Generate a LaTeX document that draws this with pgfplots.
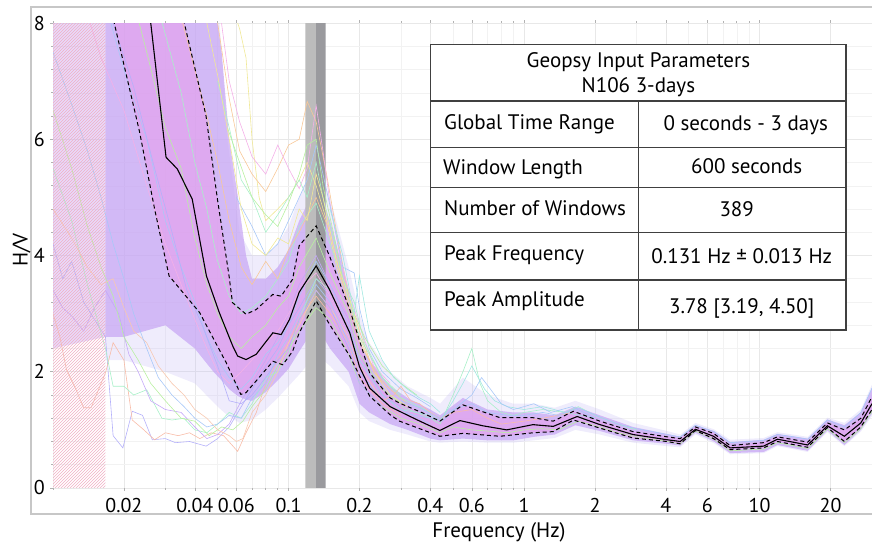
\documentclass[border=0pt]{standalone}
\usepackage{pgfplots}
\pgfplotsset{compat=1.18}
\usepackage{pgfplotstable}
\usepackage{fontspec}
\setmainfont{PT Sans}
\usetikzlibrary{patterns}
\usepgfplotslibrary{fillbetween}

\definecolor{bandlight}{RGB}{188,188,188}
\definecolor{banddark}{RGB}{154,154,158}
\definecolor{outerviolet}{RGB}{196,186,246}
\definecolor{coreviolet}{RGB}{200,166,244}
\definecolor{corepink}{RGB}{240,150,232}
\definecolor{lv1}{RGB}{180,176,250}
\definecolor{pe1}{RGB}{248,188,168}
\definecolor{mi1}{RGB}{168,240,200}
\definecolor{vi1}{RGB}{196,168,248}
\definecolor{gr1}{RGB}{184,240,160}
\definecolor{pe2}{RGB}{248,200,176}
\definecolor{lb1}{RGB}{168,200,248}
\definecolor{ye1}{RGB}{240,232,150}
\definecolor{or1}{RGB}{248,200,152}
\definecolor{pk1}{RGB}{244,176,232}
\definecolor{cy1}{RGB}{160,232,224}
\definecolor{hatchpink}{RGB}{240,176,196}

\pgfplotstableread{
f y
0.01 14
0.015 12
0.02 10
0.026 8.0
0.0302 5.69
0.0337 5.49
0.039 4.97
0.0448 3.65
0.0508 3.02
0.058 2.44
0.0608 2.27
0.066 2.21
0.0729 2.30
0.0858 2.67
0.0931 2.64
0.101 2.90
0.111 3.37
0.131 3.82
0.149 3.42
0.182 2.67
0.2 2.09
0.221 1.72
0.27 1.40
0.317 1.26
0.361 1.15
0.439 0.99
0.534 1.16
0.669 1.07
0.844 1.00
1.09 1.09
1.33 1.06
1.68 1.23
2.1 1.09
2.9 0.92
4.05 0.83
4.6 0.80
5.34 1.01
6.37 0.89
7.5 0.69
10.4 0.72
11.9 0.84
16 0.74
19.4 1.07
22.9 0.89
26.9 1.12
30 1.45
}\meantab

\pgfplotstableread{
f y
0.01 20
0.02 15
0.03 10
0.0361 8.0
0.0446 6.41
0.0499 4.97
0.0559 3.65
0.0578 3.19
0.066 2.99
0.0729 3.07
0.0857 3.33
0.093 3.30
0.104 3.59
0.111 4.17
0.131 4.51
0.149 4.00
0.182 3.07
0.221 1.98
0.27 1.55
0.296 1.46
0.372 1.29
0.439 1.15
0.55 1.43
0.79 1.21
1.09 1.21
1.33 1.15
1.62 1.32
2.1 1.15
2.9 0.97
4.05 0.88
4.6 0.85
5.34 1.05
6.37 0.94
7.5 0.73
10.4 0.78
11.9 0.88
16 0.79
19.4 1.12
22.9 1.00
26.9 1.20
30 1.57
}\uptab

\pgfplotstableread{
f y
0.01 13
0.015 10
0.0182 8.0
0.0233 6.13
0.027 4.8
0.0311 3.65
0.0419 3.02
0.0543 2.16
0.0627 1.61
0.066 1.64
0.0859 2.18
0.0945 2.12
0.104 2.35
0.111 2.67
0.131 3.22
0.149 2.82
0.182 2.27
0.221 1.58
0.27 1.26
0.296 1.15
0.372 1.00
0.439 0.89
0.55 0.94
0.79 0.89
1.09 0.95
1.33 0.97
1.62 1.17
2.1 1.03
2.9 0.86
4.05 0.80
4.6 0.76
5.34 0.99
6.37 0.85
7.5 0.66
10.4 0.69
11.9 0.80
16 0.70
19.4 1.04
22.9 0.80
26.9 1.05
30 1.35
}\lowtab

\pgfplotstableread{
f lo hi
0.0167 2.2 8.5
0.02 2.2 8.5
0.03 2.0 8.5
0.04 1.8 8.5
0.05 1.4 8.5
0.055 1.25 6.0
0.062 1.12 4.4
0.07 1.17 4.0
0.08 1.35 4.0
0.09 1.55 4.2
0.1 1.75 4.5
0.111 1.95 5.0
0.131 2.3 5.6
0.15 2.1 5.0
0.18 1.75 3.8
0.2 1.3 3.0
0.22 1.15 2.5
0.27 1.0 2.0
0.32 0.92 1.75
0.4 0.8 1.55
0.44 0.78 1.45
0.55 0.8 1.9
0.7 0.78 1.6
0.9 0.78 1.45
1.1 0.82 1.45
1.35 0.86 1.38
1.65 1.0 1.5
2.1 0.92 1.35
2.9 0.78 1.12
4.05 0.72 0.98
4.6 0.70 0.92
5.34 0.92 1.12
6.4 0.77 1.01
7.5 0.58 0.83
10.4 0.6 0.86
11.9 0.72 0.96
16 0.62 0.88
19.4 0.96 1.21
22.9 0.72 1.12
26.9 0.97 1.35
30 1.24 1.78
}\outertab

\pgfplotstableread{
f lo hi
0.0167 2.6 8.5
0.02 2.6 8.5
0.03 2.8 8.5
0.04 2.4 8.5
0.048 2.0 8.5
0.052 1.85 7.5
0.056 1.7 6.0
0.061 1.58 5.0
0.066 1.52 4.0
0.07 1.5 3.6
0.08 1.65 3.6
0.09 1.85 3.8
0.1 2.05 4.1
0.111 2.35 4.6
0.131 2.8 5.2
0.15 2.4 4.6
0.18 2.0 3.4
0.2 1.45 2.5
0.22 1.3 2.2
0.27 1.1 1.75
0.32 1.0 1.55
0.4 0.85 1.35
0.44 0.82 1.25
0.55 0.85 1.55
0.7 0.82 1.35
0.9 0.82 1.3
1.1 0.88 1.3
1.35 0.92 1.25
1.65 1.08 1.4
2.1 0.98 1.25
2.9 0.82 1.05
4.05 0.76 0.93
4.6 0.73 0.88
5.34 0.95 1.08
6.4 0.80 0.98
7.5 0.60 0.79
10.4 0.62 0.83
11.9 0.74 0.93
16 0.64 0.85
19.4 0.99 1.18
22.9 0.74 1.08
26.9 1.0 1.3
30 1.28 1.72
}\coretab

\begin{document}
\fontsize{21}{25}\selectfont
\begin{tikzpicture}[x=1pt,y=1pt]
\draw[black!22, line width=1.2pt] (31,29) rectangle (890,536);
\begin{axis}[
  at={(53pt,55pt)}, anchor=south west,
  scale only axis, width=819pt, height=465pt,
  xmode=log, xmin=0.01, xmax=30, ymin=0, ymax=8,
  axis line style={draw=none},
  xtick={0.02,0.04,0.06,0.1,0.2,0.4,0.6,1,2,4,6,10,20},
  xticklabels={0.02,0.04,0.06,0.1,0.2,0.4,0.6,1,2,4,6,10,20},
  minor xtick={0.01,0.03,0.05,0.07,0.08,0.09,0.3,0.5,0.7,0.8,0.9,3,5,7,8,9,30},
  ytick={0,2,4,6,8}, yticklabels={0,2,4,6,8},
  minor y tick num=4,
  grid=both,
  major grid style={black!9, line width=0.6pt},
  minor grid style={black!5, line width=0.5pt},
  tick style={black!30, line width=0.6pt},
  major tick length=3pt, minor tick length=2pt,
  tick align=outside,
  ticklabel style={font=\fontsize{20}{24}\selectfont},
  yticklabel style={xshift=2pt},
  clip=true,
]
% peak frequency band
\addplot[draw=none, fill=bandlight] coordinates {(0.118,0)(0.118,8)(0.131,8)(0.131,0)} \closedcycle;
\addplot[draw=none, fill=banddark] coordinates {(0.131,0)(0.131,8)(0.1436,8)(0.1436,0)} \closedcycle;

% cloud of windows: outer spread, dense core, central concentration
\addplot[draw=none, name path=olo] table[x=f, y=lo] {\outertab};
\addplot[draw=none, name path=ohi] table[x=f, y=hi] {\outertab};
\addplot[outerviolet, fill opacity=0.28, draw=none] fill between[of=olo and ohi];
\addplot[draw=none, name path=clo] table[x=f, y=lo] {\coretab};
\addplot[draw=none, name path=chi] table[x=f, y=hi] {\coretab};
\addplot[coreviolet, fill opacity=0.72, draw=none] fill between[of=clo and chi];
\addplot[draw=none, name path=dlo] table[x=f, y=y] {\lowtab};
\addplot[draw=none, name path=dhi] table[x=f, y=y] {\uptab};
\addplot[corepink, fill opacity=0.42, draw=none] fill between[of=dlo and dhi];
% lighter cloud inside the hatched zone
\addplot[draw=none, fill=coreviolet, fill opacity=0.42] coordinates {(0.01,2.4)(0.01,8.5)(0.0167,8.5)(0.0167,2.6)} -- cycle;

% individual windows
\addplot[lv1, line width=0.6pt] coordinates {(0.01,4.2)(0.011,3.6)(0.012,3.9)(0.0135,3.2)(0.015,2.9)(0.0167,2.6)(0.018,0.9)(0.0198,0.69)(0.0217,1.32)(0.024,1.25)(0.0264,0.83)(0.03,0.85)(0.0331,0.78)(0.038,0.8)(0.0447,0.72)(0.05,0.85)(0.056,1.05)(0.063,1.4)(0.07,1.7)(0.08,2.1)(0.09,2.4)(0.1,2.8)(0.111,3.1)(0.131,3.6)(0.15,3.3)(0.18,2.6)(0.2,2.0)(0.25,1.5)(0.3,1.3)};
\addplot[pe1, line width=0.6pt] coordinates {(0.01,3.0)(0.0107,2.6)(0.0114,2.04)(0.0125,1.7)(0.0135,1.38)(0.0145,1.38)(0.0167,1.98)(0.018,2.5)(0.02,2.2)(0.0217,1.17)(0.024,1.02)(0.027,0.83)(0.03,0.95)(0.034,0.9)(0.038,0.95)(0.042,0.85)(0.047,0.95)(0.053,0.9)(0.0608,0.63)(0.066,0.95)(0.073,1.3)(0.08,1.8)(0.09,2.2)(0.1,2.5)(0.111,2.9)(0.131,3.3)(0.15,3.0)(0.18,2.5)(0.2,1.9)(0.25,1.45)(0.3,1.25)};
\addplot[mi1, line width=0.6pt] coordinates {(0.01,5.5)(0.012,4.6)(0.014,3.5)(0.0167,2.4)(0.018,1.75)(0.02,1.75)(0.022,1.6)(0.025,1.69)(0.029,1.2)(0.032,1.17)(0.036,1.2)(0.04,1.0)(0.045,0.95)(0.05,1.1)(0.056,1.3)(0.063,1.2)(0.07,1.45)(0.08,1.9)(0.09,2.0)(0.1,2.3)(0.111,2.9)(0.131,3.6)(0.15,3.4)(0.18,2.7)(0.2,2.2)(0.25,1.6)(0.3,1.35)};
\addplot[vi1, line width=0.6pt] coordinates {(0.01,3.4)(0.011,3.1)(0.012,2.96)(0.0135,2.7)(0.015,3.1)(0.0167,3.4)(0.019,3.0)(0.021,2.3)(0.023,2.0)(0.026,1.5)(0.03,1.35)(0.035,1.3)(0.04,1.05)(0.045,0.85)(0.05,0.92)(0.056,1.1)(0.063,1.5)(0.07,1.8)(0.08,2.2)(0.09,2.6)(0.1,3.0)(0.111,3.5)(0.131,4.0)(0.15,3.5)(0.18,2.9)(0.2,2.3)(0.25,1.6)(0.3,1.4)};
\addplot[gr1, line width=0.6pt] coordinates {(0.01,6.5)(0.012,5.5)(0.014,4.5)(0.016,3.8)(0.018,3.3)(0.02,2.6)(0.023,2.2)(0.026,1.8)(0.03,1.5)(0.035,1.2)(0.04,1.15)(0.046,0.9)(0.052,1.05)(0.058,1.0)(0.064,1.15)(0.07,1.4)(0.08,1.7)(0.09,2.1)(0.1,2.4)(0.111,2.7)(0.131,3.1)(0.15,2.9)(0.18,2.3)(0.2,1.8)(0.25,1.4)(0.3,1.2)};
\addplot[pe2, line width=0.6pt] coordinates {(0.01,4.8)(0.012,4.3)(0.014,3.8)(0.016,3.5)(0.018,3.6)(0.02,3.1)(0.022,2.7)(0.025,2.5)(0.028,2.1)(0.032,1.8)(0.036,1.6)(0.04,1.35)(0.045,1.2)(0.05,1.0)(0.056,0.9)(0.06,0.8)(0.064,0.85)(0.07,1.3)(0.08,1.6)(0.09,2.0)(0.1,2.5)(0.111,2.8)(0.131,3.4)(0.15,3.1)(0.18,2.6)(0.2,2.1)(0.25,1.5)(0.3,1.3)};
\addplot[lb1, line width=0.6pt] coordinates {(0.01,7.5)(0.012,6.6)(0.014,5.8)(0.016,5.0)(0.018,4.2)(0.02,3.6)(0.022,3.0)(0.025,2.4)(0.028,1.9)(0.032,1.6)(0.036,1.4)(0.04,1.2)(0.045,1.05)(0.05,1.1)(0.056,1.25)(0.063,1.2)(0.07,1.55)(0.08,1.8)(0.09,2.3)(0.1,2.6)(0.111,3.0)(0.131,3.5)(0.15,3.2)(0.18,2.5)(0.2,2.0)(0.25,1.5)(0.3,1.3)};
\addplot[ye1, line width=0.6pt] coordinates {(0.045,9)(0.055,8.5)(0.062,7.9)(0.066,7.4)(0.07,6.0)(0.075,5.0)(0.08,4.6)(0.09,4.8)(0.1,5.0)(0.111,5.3)(0.12,5.6)(0.131,5.2)(0.145,4.6)(0.16,3.8)(0.18,3.2)(0.2,2.6)(0.23,2.0)(0.27,1.6)(0.32,1.4)};
\addplot[or1, line width=0.6pt] coordinates {(0.04,9)(0.05,8.0)(0.056,6.7)(0.062,5.8)(0.07,5.4)(0.08,5.1)(0.09,5.5)(0.1,5.9)(0.111,6.0)(0.12,6.65)(0.131,6.3)(0.145,5.4)(0.16,4.4)(0.18,3.3)(0.2,2.7)(0.23,2.0)(0.27,1.7)(0.32,1.45)};
\addplot[pk1, line width=0.6pt] coordinates {(0.05,8.5)(0.056,7.0)(0.062,6.3)(0.07,5.7)(0.08,5.4)(0.09,5.9)(0.1,5.5)(0.111,5.15)(0.12,5.5)(0.131,6.58)(0.14,5.8)(0.15,4.9)(0.165,4.0)(0.18,3.4)(0.2,2.8)(0.23,2.1)(0.27,1.8)};
\addplot[mi1, line width=0.6pt] coordinates {(0.05,7.0)(0.056,6.2)(0.063,5.3)(0.07,5.0)(0.08,4.4)(0.09,4.7)(0.1,5.0)(0.111,5.3)(0.12,5.0)(0.131,5.6)(0.14,5.0)(0.155,4.3)(0.17,3.6)(0.19,3.2)(0.21,2.5)(0.25,1.9)(0.3,1.6)};
\addplot[lb1, line width=0.6pt] coordinates {(0.06,5.0)(0.07,4.5)(0.08,4.0)(0.09,4.2)(0.1,4.6)(0.111,5.0)(0.12,5.3)(0.131,5.9)(0.14,5.4)(0.155,4.6)(0.17,3.8)(0.19,3.7)(0.2,3.1)(0.22,2.4)(0.25,2.0)(0.3,1.7)(0.35,1.55)(0.4,1.4)};
\addplot[gr1, line width=0.6pt] coordinates {(0.055,6.2)(0.062,5.6)(0.07,5.0)(0.08,4.7)(0.09,4.5)(0.1,4.9)(0.111,5.4)(0.12,5.9)(0.131,6.0)(0.14,5.2)(0.155,4.4)(0.17,3.6)(0.19,3.0)(0.21,2.6)(0.25,2.1)(0.3,1.8)(0.35,1.6)};
\addplot[lb1, line width=0.6pt] coordinates {(0.015,9)(0.02,7.2)(0.025,6.0)(0.03,4.6)(0.035,3.8)(0.04,3.2)(0.045,2.6)(0.05,2.2)(0.056,1.9)(0.063,1.7)(0.07,1.9)(0.08,2.3)(0.09,2.5)(0.1,2.8)(0.111,3.3)(0.131,3.9)(0.15,3.5)(0.18,2.8)(0.2,2.2)(0.25,1.6)(0.3,1.35)(0.4,1.1)};
\addplot[gr1, line width=0.6pt] coordinates {(0.02,9)(0.025,7.5)(0.03,6.2)(0.035,5.5)(0.04,4.3)(0.045,3.5)(0.05,3.0)(0.056,2.6)(0.063,2.4)(0.07,2.6)(0.08,2.8)(0.09,3.1)(0.1,3.3)(0.111,3.8)(0.131,4.3)(0.15,3.7)(0.18,3.0)(0.2,2.3)(0.25,1.7)(0.3,1.45)};
\addplot[pk1, line width=0.6pt] coordinates {(0.012,9)(0.016,7.4)(0.02,6.5)(0.025,5.2)(0.03,4.2)(0.035,3.5)(0.04,2.9)(0.045,2.4)(0.05,2.0)(0.056,1.8)(0.063,2.0)(0.07,2.2)(0.08,2.5)(0.09,2.7)(0.1,3.0)(0.111,3.4)(0.131,3.7)(0.15,3.3)(0.18,2.6)(0.2,2.0)};
\addplot[mi1, line width=0.6pt] coordinates {(0.025,9)(0.03,7.8)(0.035,6.8)(0.04,5.6)(0.045,4.8)(0.05,3.9)(0.056,3.3)(0.063,3.0)(0.07,3.1)(0.08,3.3)(0.09,3.6)(0.1,3.9)(0.111,4.5)(0.131,4.9)(0.15,4.2)(0.18,3.3)(0.2,2.6)(0.25,1.9)(0.3,1.55)(0.4,1.3)};
\addplot[or1, line width=0.6pt] coordinates {(0.03,9)(0.035,8.1)(0.04,7.2)(0.045,6.4)(0.05,5.6)(0.056,4.6)(0.063,3.8)(0.07,3.5)(0.08,3.9)(0.09,3.6)(0.1,4.1)(0.111,4.4)(0.131,5.0)(0.15,4.4)(0.18,3.1)(0.2,2.5)(0.25,1.8)};
\addplot[lv1, line width=0.6pt] coordinates {(0.014,9)(0.018,8.0)(0.022,6.9)(0.027,5.5)(0.032,4.4)(0.037,3.4)(0.043,2.8)(0.05,2.1)(0.056,1.5)(0.063,1.45)(0.07,1.6)(0.08,1.9)(0.09,2.2)(0.1,2.4)(0.111,2.9)(0.131,3.4)(0.15,3.1)(0.18,2.4)(0.2,1.8)(0.25,1.4)};
\addplot[ye1, line width=0.6pt] coordinates {(0.04,9)(0.045,8.0)(0.05,7.1)(0.056,6.0)(0.063,4.8)(0.07,4.2)(0.08,4.0)(0.09,4.3)(0.1,4.2)(0.111,4.8)(0.12,4.6)(0.131,5.4)(0.14,5.0)(0.16,3.9)(0.18,3.3)(0.2,2.7)};
\addplot[cy1, line width=0.6pt] coordinates {(0.15,4.8)(0.17,4.0)(0.19,3.0)(0.2,3.65)(0.22,2.7)(0.25,2.2)(0.28,1.9)(0.32,1.7)(0.36,1.55)(0.4,1.45)(0.44,1.3)};
\addplot[mi1, line width=0.6pt] coordinates {(0.3,1.4)(0.35,1.3)(0.4,1.2)(0.44,1.1)(0.5,1.6)(0.55,2.0)(0.6,2.4)(0.65,1.8)(0.7,1.5)(0.8,1.3)(0.9,1.25)(1.0,1.3)(1.2,1.35)(1.5,1.3)(1.7,1.4)(2.0,1.25)(2.5,1.1)(3,1.0)};
\addplot[cy1, line width=0.6pt] coordinates {(0.3,1.35)(0.4,1.25)(0.44,1.15)(0.5,1.5)(0.55,1.8)(0.6,2.1)(0.68,1.7)(0.75,1.5)(0.85,1.4)(1.0,1.35)(1.2,1.4)(1.5,1.3)(2.0,1.2)};
\addplot[lb1, line width=0.6pt] coordinates {(0.3,1.3)(0.4,1.2)(0.45,1.15)(0.52,1.4)(0.6,1.6)(0.66,1.9)(0.72,1.7)(0.8,1.45)(0.9,1.35)(1.0,1.4)(1.1,1.45)(1.3,1.3)(1.6,1.4)(2.0,1.2)};
\addplot[pe1, line width=0.6pt] coordinates {(0.25,1.5)(0.28,1.6)(0.3,1.75)(0.33,1.5)(0.36,1.45)(0.4,1.3)(0.44,1.2)(0.5,1.3)(0.6,1.35)(0.7,1.2)(0.8,1.1)(1.0,1.15)(1.2,1.2)(1.6,1.3)};
\addplot[lb1, line width=0.6pt] coordinates {(0.3,1.5)(0.36,1.38)(0.44,1.2)(0.5,1.35)(0.6,1.45)(0.7,1.3)(0.85,1.25)(1.0,1.25)(1.2,1.3)(1.4,1.25)(1.7,1.38)(2.1,1.22)(2.5,1.1)(3,1.02)(3.5,0.97)(4.05,0.92)(4.6,0.88)(5.34,1.08)(6.4,0.97)(7.5,0.78)(9,0.8)(10.4,0.82)(11.9,0.92)(14,0.88)(16,0.84)(19.4,1.17)(22.9,1.05)(26.9,1.3)(30,1.72)};
\addplot[gr1, line width=0.6pt] coordinates {(0.3,1.2)(0.36,1.1)(0.44,0.95)(0.5,1.05)(0.6,1.0)(0.7,0.98)(0.85,0.95)(1.0,1.0)(1.2,1.02)(1.4,1.0)(1.7,1.15)(2.1,1.05)(2.5,0.95)(3,0.88)(4.05,0.8)(4.6,0.76)(5.34,0.98)(6.4,0.84)(7.5,0.64)(10.4,0.67)(11.9,0.78)(16,0.68)(19.4,1.02)(22.9,0.78)(26.9,1.02)(30,1.32)};

% low-frequency hatched zone
\addplot[draw=none, pattern=north east lines, pattern color=hatchpink] coordinates {(0.01,0)(0.01,8)(0.01667,8)(0.01667,0)} \closedcycle;

% mean and standard deviation curves
\addplot[black, line width=1.1pt] table[x=f, y=y] {\meantab};
\addplot[black, line width=1.0pt, dash pattern=on 4pt off 3pt] table[x=f, y=y] {\uptab};
\addplot[black, line width=1.0pt, dash pattern=on 4pt off 3pt] table[x=f, y=y] {\lowtab};
\end{axis}

\node[rotate=90] at (21.7,293) {H/V};
\node[anchor=base] at (499,5.7) {Frequency (Hz)};

% parameter table
\draw[fill=white, draw=black!75, line width=1.3pt] (430.7,213) rectangle (846,498.3);
\draw[black!75, line width=1.3pt] (430.7,442) -- (846,442);
\draw[black!75, line width=1.3pt] (430.7,395.7) -- (846,395.7);
\draw[black!75, line width=1.3pt] (430.7,355.3) -- (846,355.3);
\draw[black!75, line width=1.3pt] (430.7,310.7) -- (846,310.7);
\draw[black!75, line width=1.3pt] (430.7,263) -- (846,263);
\draw[black!75, line width=1.3pt] (638.3,213) -- (638.3,442);
\node[anchor=base] at (638.4,475.7) {Geopsy Input Parameters};
\node[anchor=base] at (638.4,450.3) {N106 3-days};
\node[anchor=base west,inner sep=0pt] at (444,413.7) {Global Time Range};
\node[anchor=base west,inner sep=0pt] at (443,368) {Window Length};
\node[anchor=base west,inner sep=0pt] at (444,327.3) {Number of Windows};
\node[anchor=base west,inner sep=0pt] at (444,282.3) {Peak Frequency};
\node[anchor=base west,inner sep=0pt] at (444,236.3) {Peak Amplitude};
\node[anchor=base] at (745.7,412.3) {0 seconds - 3 days};
\node[anchor=base] at (746.7,369) {600 seconds};
\node[anchor=base] at (736.7,326.3) {389};
\node[anchor=base] at (741.7,279) {0.131 Hz ± 0.013 Hz};
\node[anchor=base] at (741.7,229.7) {3.78 [3.19, 4.50]};

\pgfresetboundingbox
\path[use as bounding box] (0,0) rectangle (872,543);
\end{tikzpicture}
\end{document}
